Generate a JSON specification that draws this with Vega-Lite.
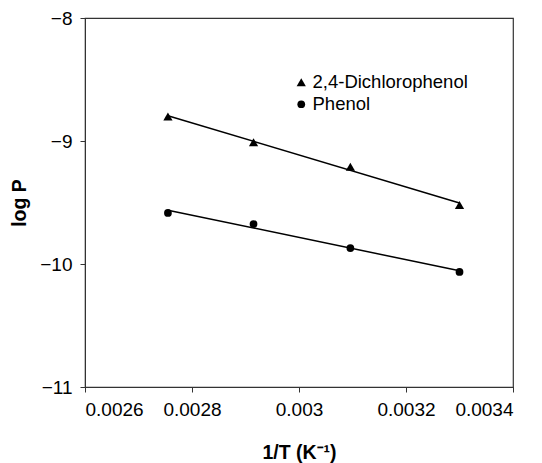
{
  "$schema": "https://vega.github.io/schema/vega-lite/v6.json",
  "width": 428,
  "height": 369,
  "autosize": "none",
  "padding": {"left": 85, "top": 18, "right": 29, "bottom": 76},
  "background": "white",
  "config": {
    "font": "Liberation Sans",
    "view": {"stroke": "#333", "strokeWidth": 1.2},
    "axis": {
      "grid": false,
      "domainColor": "#333",
      "tickColor": "#333",
      "tickSize": 5,
      "labelFont": "Liberation Sans",
      "labelFontSize": 19,
      "labelColor": "black",
      "titleFont": "Liberation Sans",
      "titleFontSize": 19.5,
      "titleFontWeight": "bold",
      "titleColor": "black"
    },
    "legend": {
      "labelFont": "Liberation Sans",
      "labelFontSize": 18.5,
      "labelColor": "black",
      "labelOffset": 2,
      "symbolFillColor": "black",
      "symbolStrokeColor": "black",
      "rowPadding": 3
    }
  },
  "data": {
    "values": [
      {"compound": "2,4-Dichlorophenol", "invT": 0.002755, "logP": -8.80},
      {"compound": "2,4-Dichlorophenol", "invT": 0.002915, "logP": -9.01},
      {"compound": "2,4-Dichlorophenol", "invT": 0.003096, "logP": -9.21},
      {"compound": "2,4-Dichlorophenol", "invT": 0.003300, "logP": -9.52},
      {"compound": "Phenol", "invT": 0.002755, "logP": -9.585},
      {"compound": "Phenol", "invT": 0.002915, "logP": -9.675},
      {"compound": "Phenol", "invT": 0.003096, "logP": -9.87},
      {"compound": "Phenol", "invT": 0.003300, "logP": -10.065}
    ]
  },
  "layer": [
    {
      "transform": [{"regression": "logP", "on": "invT", "groupby": ["compound"]}],
      "mark": {"type": "line", "color": "black", "strokeWidth": 1.5},
      "encoding": {
        "x": {"field": "invT", "type": "quantitative"},
        "y": {"field": "logP", "type": "quantitative"},
        "detail": {"field": "compound"}
      }
    },
    {
      "mark": {"type": "point", "filled": true, "opacity": 1},
      "encoding": {
        "x": {
          "field": "invT",
          "type": "quantitative",
          "scale": {"domain": [0.0026, 0.0034], "nice": false, "zero": false},
          "axis": {
            "values": [0.0026, 0.0028, 0.003, 0.0032, 0.0034],
            "format": "~g",
            "labelPadding": 8,
            "title": "1/T (K⁻¹)",
            "titleX": 214,
            "titleY": 65,
            "titleBaseline": "middle"
          }
        },
        "y": {
          "field": "logP",
          "type": "quantitative",
          "scale": {"domain": [-11, -8], "nice": false, "zero": false},
          "axis": {
            "values": [-11, -10, -9, -8],
            "format": "d",
            "labelPadding": 8,
            "title": "log P",
            "titleX": -66,
            "titleY": 184.5,
            "titleBaseline": "middle",
            "titleAngle": -90
          }
        },
        "shape": {
          "field": "compound",
          "type": "nominal",
          "scale": {"domain": ["2,4-Dichlorophenol", "Phenol"], "range": ["triangle-up", "circle"]},
          "legend": {"title": null, "orient": "none", "legendX": 207, "legendY": 55}
        },
        "size": {
          "field": "compound",
          "type": "nominal",
          "scale": {"domain": ["2,4-Dichlorophenol", "Phenol"], "range": [85, 60]},
          "legend": {"title": null, "orient": "none", "legendX": 207, "legendY": 55}
        },
        "color": {"value": "black"}
      }
    }
  ]
}
